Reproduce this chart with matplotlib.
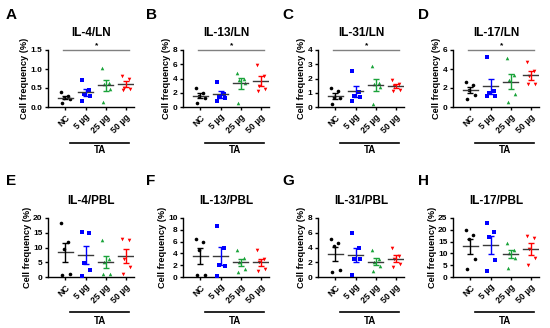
import numpy as np
import matplotlib
matplotlib.use("Agg")
import matplotlib.pyplot as plt
from matplotlib.lines import Line2D

plt.rcParams["font.family"] = ["Liberation Sans", "DejaVu Sans"]
plt.rcParams["font.weight"] = "bold"

groups = ["NC", "5 µg", "25 µg", "50 µg"]
colors = ["#000000", "#0000ff", "#1aa33a", "#ff0000"]
markers = ["o", "s", "^", "v"]

# values per group (NC, 5, 25, 50 µg)
il4_ln = [[0.40, 0.30, 0.25, 0.20, 0.10], [0.72, 0.45, 0.35, 0.28, 0.15],
          [1.03, 0.62, 0.60, 0.48, 0.12], [0.82, 0.75, 0.50, 0.48, 0.45]]
il13_ln = [[2.7, 1.9, 1.6, 1.3, 0.5], [3.5, 1.8, 1.4, 1.2, 0.9],
           [4.8, 4.0, 3.8, 3.3, 0.6], [5.9, 4.4, 2.9, 2.5, 2.3]]
il31_ln = [[1.3, 1.1, 0.7, 0.6, 0.2], [2.55, 1.05, 0.8, 0.7, 0.4],
           [2.85, 1.65, 1.6, 1.4, 0.2], [1.9, 1.6, 1.5, 1.2, 1.1]]
il17_ln = [[2.6, 2.3, 1.8, 1.3, 0.8], [5.3, 1.7, 1.5, 1.2, 1.2],
           [5.2, 3.4, 2.8, 1.4, 0.5], [4.7, 3.8, 3.3, 2.4, 2.4]]
il4_pbl = [[18.3, 12.0, 9.5, 1.0, 0.8], [15.2, 14.8, 4.8, 2.5, 0.5],
           [12.5, 6.2, 5.0, 1.1, 1.0], [13.0, 12.5, 6.0, 3.5, 1.0]]
il13_pbl = [[6.4, 6.0, 4.5, 0.3, 0.3], [8.6, 5.0, 2.0, 1.9, 0.2],
            [4.5, 3.2, 2.5, 1.3, 0.9], [4.5, 3.0, 2.5, 1.4, 1.0]]
il31_pbl = [[5.1, 4.6, 4.2, 1.0, 0.7], [5.9, 4.0, 2.5, 2.4, 0.3],
            [3.7, 2.4, 2.1, 1.5, 0.8], [4.0, 2.8, 2.4, 1.8, 1.4]]
il17_pbl = [[20.0, 18.0, 16.0, 7.5, 3.5], [23.0, 19.0, 17.0, 7.0, 2.5],
            [14.5, 11.5, 10.0, 8.0, 4.0], [17.5, 16.5, 12.0, 8.0, 5.0]]

panels = [
    ("A", "IL-4/LN", il4_ln, (0, 1.5), [0.0, 0.5, 1.0, 1.5], "{:.1f}", True),
    ("B", "IL-13/LN", il13_ln, (0, 8), [0, 2, 4, 6, 8], "{:.0f}", True),
    ("C", "IL-31/LN", il31_ln, (0, 4), [0, 1, 2, 3, 4], "{:.0f}", True),
    ("D", "IL-17/LN", il17_ln, (0, 6), [0, 2, 4, 6], "{:.0f}", True),
    ("E", "IL-4/PBL", il4_pbl, (0, 20), [0, 5, 10, 15, 20], "{:.0f}", False),
    ("F", "IL-13/PBL", il13_pbl, (0, 10), [0, 2, 4, 6, 8, 10], "{:.0f}", False),
    ("G", "IL-31/PBL", il31_pbl, (0, 8), [0, 2, 4, 6, 8], "{:.0f}", False),
    ("H", "IL-17/PBL", il17_pbl, (0, 25), [0, 5, 10, 15, 20, 25], "{:.0f}", False),
]

W, H = 550, 328
fig = plt.figure(figsize=(W / 100, H / 100), dpi=100)

lefts = [48, 183, 318, 453]
letter_x = [6, 146, 282, 418]
rows = [(50, 107), (218, 277)]
letter_y = [15, 181]
ta_line = [-0.63, -0.59]
ta_text = [-0.76, -0.74]

# horizontal scatter of the dots inside a group
jitter = [-0.2, 0.15, -0.08, 0.22, -0.16]

for i, (letter, title, data, ylim, yticks, fmt, sig) in enumerate(panels):
    r, c = divmod(i, 4)
    top, bot = rows[r]
    ax = fig.add_axes([lefts[c] / W, 1 - bot / H, 86 / W, (bot - top) / H])
    x = np.arange(4)
    for g in range(4):
        vals = np.array(data[g])
        xs = g + np.array(jitter)
        ax.plot(xs, vals, linestyle="none", marker=markers[g], color=colors[g],
                markersize=2.6, markeredgewidth=0, clip_on=False, zorder=3)
        m = vals.mean()
        sem = vals.std(ddof=1) / np.sqrt(len(vals))
        ax.plot([g - 0.38, g + 0.38], [m, m], color="#3a3a3a", lw=1.0, zorder=4)
        ax.errorbar(g, m, yerr=sem, color=colors[g], capsize=2.5, lw=1.0,
                    capthick=1.0, zorder=4)
    ax.set_xlim(-0.86, 3.4)
    ax.set_ylim(*ylim)
    ax.set_yticks(yticks)
    ax.set_yticklabels([fmt.format(t) for t in yticks], fontsize=6, fontweight="bold")
    ax.set_xticks(x)
    ax.set_xticklabels(groups, rotation=45, ha="right", rotation_mode="anchor",
                       fontsize=6.3, fontweight="bold")
    ax.spines["top"].set_visible(False)
    ax.spines["right"].set_visible(False)
    for s in ["left", "bottom"]:
        ax.spines[s].set_linewidth(1.0)
    ax.tick_params(axis="both", length=2.5, width=1.0, pad=1.5)
    ax.set_ylabel("Cell frequency (%)", fontsize=6.7, fontweight="bold", labelpad=1)
    ax.set_title(title, fontsize=8.5, fontweight="bold", pad=10)

    # TA bracket under the treated groups
    ax.add_line(Line2D([0.26, 0.94], [ta_line[r], ta_line[r]], transform=ax.transAxes,
                       color="black", lw=1.2, clip_on=False))
    ax.text(0.6, ta_text[r], "TA", transform=ax.transAxes, ha="center", va="center",
            fontsize=7, fontweight="bold")

    if sig:
        ax.add_line(Line2D([0.17, 0.94], [1.0, 1.0], transform=ax.transAxes,
                           color="#808080", lw=1.0, clip_on=False))
        ax.text(0.57, 1.02, "*", transform=ax.transAxes, ha="center", va="bottom",
                fontsize=6, fontweight="bold")

    fig.text(letter_x[c] / W, 1 - letter_y[r] / H, letter, fontsize=11,
             fontweight="bold", va="center", ha="left")

fig.savefig("out.png", dpi=100)
